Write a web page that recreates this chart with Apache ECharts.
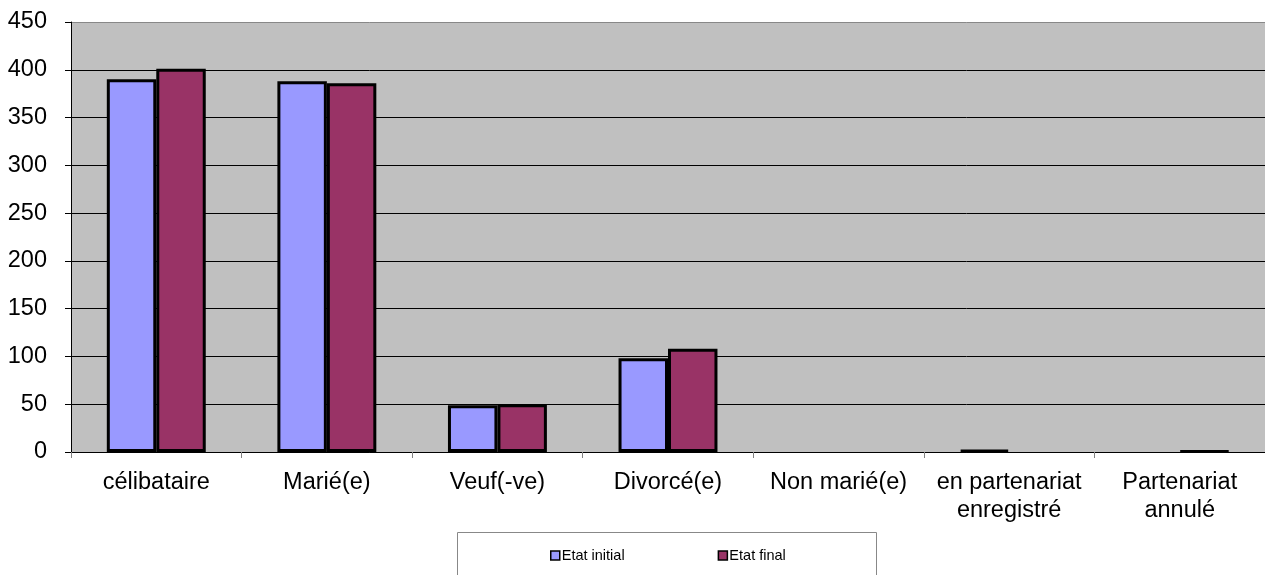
<!DOCTYPE html>
<html><head><meta charset="utf-8">
<script src="https://cdn.jsdelivr.net/npm/echarts@6/dist/echarts.min.js"></script>
<style>html,body{margin:0;padding:0;background:#fff}#c{width:1265px;height:575px}</style>
</head><body><div id="c"></div>
<script>
const categories = ['célibataire', 'Marié(e)', 'Veuf(-ve)', 'Divorcé(e)', 'Non marié(e)', 'en partenariat\nenregistré', 'Partenariat\nannulé'];
const etatInitial = [390, 388, 49, 98, 0, 2, 0];
const etatFinal = [401, 386, 50, 108, 0, 0, 1];
const yTicks = [0, 50, 100, 150, 200, 250, 300, 350, 400, 450];

const hideZero = arr => arr.map(v => v === 0 ? { value: 0, itemStyle: { borderWidth: 0, opacity: 0 } } : v);

const chart = echarts.init(document.getElementById('c'));
chart.setOption({
  animation: false,
  textStyle: { fontFamily: 'Liberation Sans, Arial, sans-serif' },
  grid: { left: 71, right: 0, top: 22, bottom: 123, show: true, backgroundColor: '#C0C0C0', borderWidth: 0 },
  graphic: [{
    type: 'rect', shape: { x: 457.5, y: 532.5, width: 419, height: 60 },
    style: { fill: '#fff', stroke: '#888', lineWidth: 1 }, z: -1
  }],
  legend: {
    left: 545, top: 543, itemGap: 93, itemWidth: 9, itemHeight: 9, icon: 'rect',
    itemStyle: { borderColor: '#000', borderWidth: 1.5 },
    textStyle: { fontSize: 14.5, color: '#000', padding: [0, 0, 0, -3] },
    data: ['Etat initial', 'Etat final']
  },
  xAxis: {
    type: 'category', data: categories,
    axisLine: { lineStyle: { color: '#000', width: 1 } },
    axisTick: { show: true, length: 6, lineStyle: { color: '#808080' } },
    axisLabel: { color: '#000', fontSize: 23.5, margin: 17, lineHeight: 28, interval: 0 }
  },
  yAxis: {
    type: 'value', min: 0, max: 450, interval: 50,
    axisLine: { show: true, lineStyle: { color: '#000' } },
    axisTick: { show: true, length: 6, lineStyle: { color: '#000' } },
    axisLabel: { color: '#000', fontSize: 23.5, margin: 24, formatter: v => yTicks.includes(v) ? String(v) : '' },
    splitLine: { lineStyle: { color: ['#000', '#000', '#000', '#000', '#000', '#000', '#000', '#000', '#000', '#888'], width: 1 } }
  },
  series: [{
    name: 'Etat initial', type: 'bar', data: hideZero(etatInitial), barGap: '0%', barCategoryGap: '42%',
    itemStyle: { color: '#9999FF', borderColor: '#000', borderWidth: 3 }
  }, {
    name: 'Etat final', type: 'bar', data: hideZero(etatFinal),
    itemStyle: { color: '#993366', borderColor: '#000', borderWidth: 3 }
  }]
});
</script></body></html>
